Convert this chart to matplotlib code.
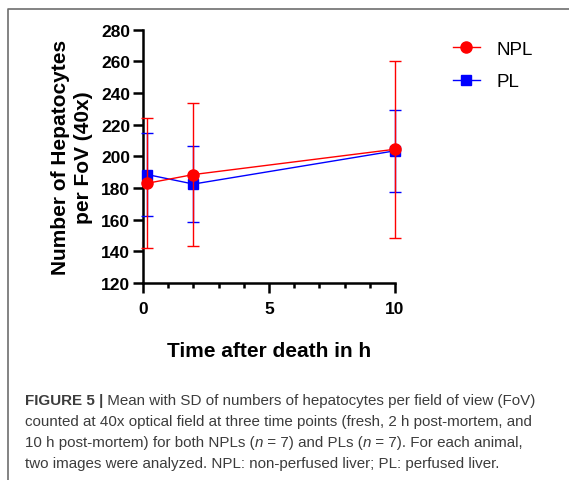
import matplotlib
matplotlib.use('Agg')
import matplotlib.pyplot as plt
from matplotlib.lines import Line2D
from matplotlib.ticker import MultipleLocator

# data
time_h = [0.17, 2, 10]
npl_mean = [183, 188.5, 204.5]
npl_sd = [41, 45, 56]
pl_mean = [188.5, 182.5, 203.5]
pl_sd = [26, 24, 26]

caption_lines = [
    [("FIGURE 5 |", "bold", "normal"),
     (" Mean with SD of numbers of hepatocytes per field of view (FoV)", "normal", "normal")],
    [("counted at 40x optical field at three time points (fresh, 2 h post-mortem, and", "normal", "normal")],
    [("10 h post-mortem) for both NPLs (", "normal", "normal"), ("n", "normal", "italic"),
     (" = 7) and PLs (", "normal", "normal"), ("n", "normal", "italic"),
     (" = 7). For each animal,", "normal", "normal")],
    [("two images were analyzed. NPL: non-perfused liver; PL: perfused liver.", "normal", "normal")],
]

plt.rcParams['font.family'] = ['Liberation Sans', 'DejaVu Sans']

W, H = 569, 481
fig = plt.figure(figsize=(W/100, H/100), dpi=100)

# grey frame of the screenshot (top and left edges visible)
frame = Line2D([8/W, 8/W, 1.0], [0.0, 1 - 10/H, 1 - 10/H], transform=fig.transFigure,
               color='#6e6e6e', lw=1.2)
fig.add_artist(frame)

ax = fig.add_axes([143/W, 1 - 284/H, (395 - 143)/W, (284 - 30.7)/H])

ax.errorbar(time_h, pl_mean, yerr=pl_sd, color='#0000ff', marker='s', ms=7, lw=1.0,
            capsize=4, elinewidth=1.0, capthick=1.0, clip_on=False, zorder=3)
ax.errorbar(time_h, npl_mean, yerr=npl_sd, color='#ff0000', marker='o', ms=8, lw=1.0,
            capsize=4, elinewidth=1.0, capthick=1.0, clip_on=False, zorder=4)

ax.set_xlim(0, 10)
ax.set_ylim(120, 280)
ax.yaxis.set_major_locator(MultipleLocator(20))
ax.xaxis.set_major_locator(MultipleLocator(5))
ax.xaxis.set_minor_locator(MultipleLocator(1))

for s in ['top', 'right']:
    ax.spines[s].set_visible(False)
for s in ['left', 'bottom']:
    ax.spines[s].set_linewidth(1.8)
ax.tick_params(axis='both', which='major', direction='out', length=7.2, width=1.8, labelsize=12.5)
ax.tick_params(axis='x', which='minor', direction='out', length=3.6, width=1.8)
ax.tick_params(axis='x', which='major', pad=6)
ax.tick_params(axis='y', which='major', pad=2)
for lab in ax.get_xticklabels() + ax.get_yticklabels():
    lab.set_fontweight('bold')

ax.set_xlabel('Time after death in h', fontsize=15, fontweight='bold', labelpad=18)
ax.set_ylabel('Number of Hepatocytes\nper FoV (40x)', fontsize=15, fontweight='bold',
              labelpad=6, linespacing=1.25)

handles = [Line2D([], [], color='#ff0000', marker='o', ms=8, lw=1.0),
           Line2D([], [], color='#0000ff', marker='s', ms=7, lw=1.0)]
fig.legend(handles, ['NPL', 'PL'], loc='upper left', bbox_to_anchor=(436/W, 1 - 25/H),
           frameon=False, fontsize=13.5, handlelength=1.45, handletextpad=0.85,
           labelspacing=0.8)

# caption, drawn piece by piece to mix bold/italic
fig.canvas.draw()
r = fig.canvas.get_renderer()
line_y = [401, 422, 443, 464]
for pieces, yy in zip(caption_lines, line_y):
    x0 = 25
    for txt, wt, st in pieces:
        t = fig.text(x0/W, 1 - yy/H, txt, fontsize=10.9, fontweight=wt, fontstyle=st,
                     color='#3c3c3c', va='center', ha='left')
        bb = t.get_window_extent(renderer=r)
        x0 += bb.width

fig.savefig('out.png', dpi=100)
